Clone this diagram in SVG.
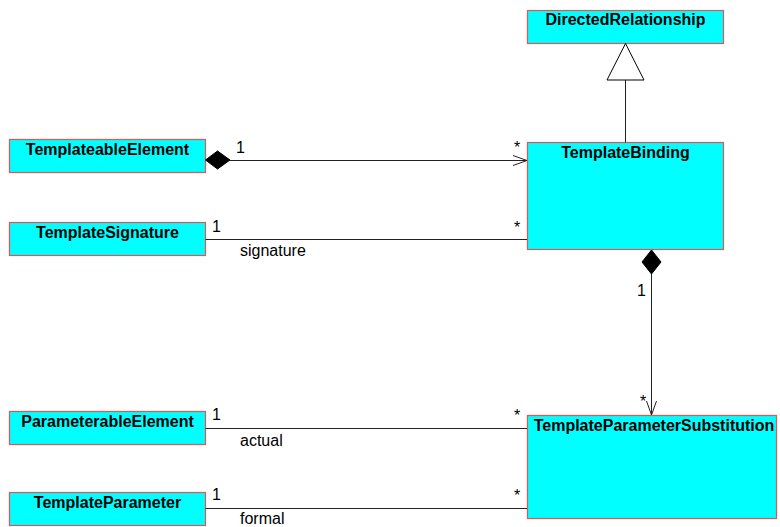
<svg xmlns="http://www.w3.org/2000/svg" width="780" height="527" viewBox="0 0 780 527">
  <style>
    .cls { fill: #00ffff; stroke: #e05555; stroke-width: 1.2; }
    .name { font-family: "Liberation Sans", Arial, sans-serif; font-weight: bold; font-size: 16px; fill: #000; text-anchor: middle; }
    .lbl { font-family: "Liberation Sans", Arial, sans-serif; font-size: 16px; fill: #000; }
    .edge { stroke: #222; stroke-width: 1; fill: none; }
  </style>
  <rect width="780" height="527" fill="#fff"/>

  <g id="DirectedRelationship">
    <rect class="cls" x="527.5" y="10.5" width="196" height="33"/>
    <text class="name" x="625.5" y="25">DirectedRelationship</text>
  </g>
  <g id="TemplateBinding">
    <rect class="cls" x="527.5" y="142.5" width="196" height="107"/>
    <text class="name" x="625.5" y="158">TemplateBinding</text>
  </g>
  <g id="TemplateableElement">
    <rect class="cls" x="9.5" y="139.5" width="196" height="33"/>
    <text class="name" x="107.5" y="155">TemplateableElement</text>
  </g>
  <g id="TemplateSignature">
    <rect class="cls" x="9.5" y="222.5" width="196" height="33"/>
    <text class="name" x="107.5" y="238">TemplateSignature</text>
  </g>
  <g id="ParameterableElement">
    <rect class="cls" x="9.5" y="411.5" width="196" height="33"/>
    <text class="name" x="107.5" y="427">ParameterableElement</text>
  </g>
  <g id="TemplateParameter">
    <rect class="cls" x="9.5" y="492.5" width="196" height="33"/>
    <text class="name" x="107.5" y="508">TemplateParameter</text>
  </g>
  <g id="TemplateParameterSubstitution">
    <rect class="cls" x="527.5" y="415.5" width="249" height="103"/>
    <text class="name" x="654" y="431">TemplateParameterSubstitution</text>
  </g>

  <g id="connectors">
    <!-- generalization: TemplateBinding -> DirectedRelationship -->
    <line class="edge" x1="625.5" y1="80" x2="625.5" y2="142.5"/>
    <polygon points="625.5,43.5 607,80 644,80" fill="#fff" stroke="#000" stroke-width="1"/>

    <!-- composition: TemplateableElement <>-> TemplateBinding -->
    <polygon points="205.5,160 217.5,151 230,160 217.5,169" fill="#000" stroke="#000" stroke-width="1"/>
    <line class="edge" x1="230" y1="160.5" x2="527" y2="160.5"/>
    <polyline class="edge" points="513,155.5 527,160.5 513,165.5"/>
    <text class="lbl" x="236" y="153">1</text>
    <text class="lbl" x="514" y="153">*</text>

    <!-- association: TemplateSignature - TemplateBinding -->
    <line class="edge" x1="205.5" y1="239.5" x2="527" y2="239.5"/>
    <text class="lbl" x="212" y="232">1</text>
    <text class="lbl" x="240" y="256">signature</text>
    <text class="lbl" x="514" y="233">*</text>

    <!-- composition: TemplateBinding <>-> TemplateParameterSubstitution -->
    <polygon points="651.5,250 661,262 651.5,274 642,262" fill="#000" stroke="#000" stroke-width="1"/>
    <line class="edge" x1="651.5" y1="274" x2="651.5" y2="415"/>
    <polyline class="edge" points="646.5,401 651.5,415 656.5,401"/>
    <text class="lbl" x="637" y="296">1</text>
    <text class="lbl" x="640" y="407">*</text>

    <!-- association: ParameterableElement - TemplateParameterSubstitution -->
    <line class="edge" x1="205.5" y1="428.5" x2="527" y2="428.5"/>
    <text class="lbl" x="212" y="420">1</text>
    <text class="lbl" x="240" y="446">actual</text>
    <text class="lbl" x="514" y="421">*</text>

    <!-- association: TemplateParameter - TemplateParameterSubstitution -->
    <line class="edge" x1="205.5" y1="508.5" x2="527" y2="508.5"/>
    <text class="lbl" x="212" y="500">1</text>
    <text class="lbl" x="240" y="524">formal</text>
    <text class="lbl" x="514" y="501">*</text>
  </g>
</svg>
